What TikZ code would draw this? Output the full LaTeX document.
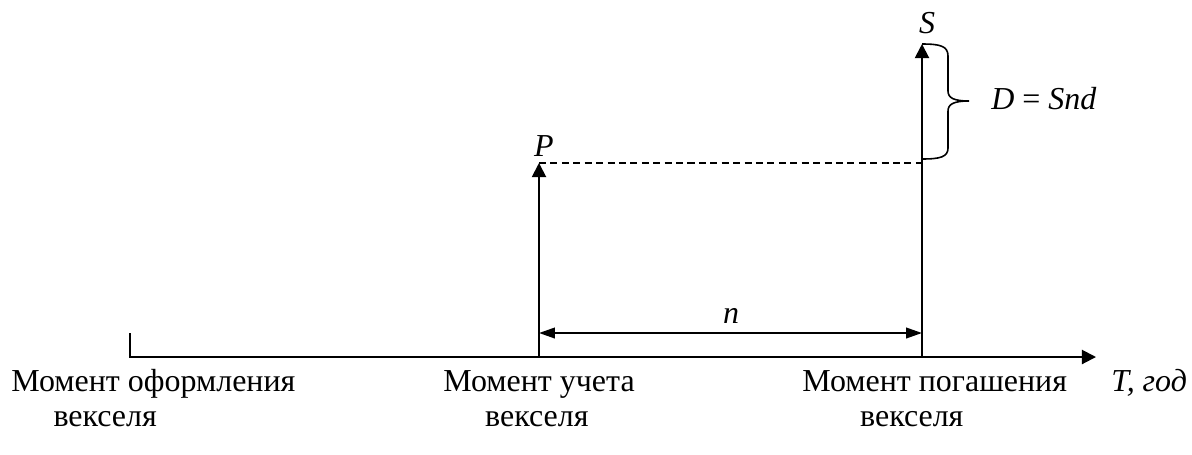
\documentclass[tikz,border=0pt]{standalone}
\usepackage{fontspec}
\setmainfont{Liberation Serif}
\usetikzlibrary{arrows.meta}

\begin{document}
\begin{tikzpicture}[x=0.02cm,y=-0.02cm,
  every node/.style={font=\fontsize{18.2}{19.5}\selectfont},
  trait/.style={line width=1.1pt},
  fleche/.style={trait,-{Triangle[length=8pt,width=8pt]}},
  cote/.style={trait,{Triangle[length=9pt,width=6pt]}-{Triangle[length=9pt,width=6pt]}},
  legende/.style={anchor=base west,inner sep=0pt,align=left}
]
\useasboundingbox (0,0) rectangle (1192,454);

% points de l'axe
\coordinate (debuthaut) at (130,333);
\coordinate (debut) at (130,357);
\coordinate (fin) at (1096,357);
\coordinate (pbas) at (539,357);
\coordinate (phaut) at (539,163);
\coordinate (sbas) at (922,357);
\coordinate (shaut) at (922,44);
\coordinate (niveauP) at (922,163);
\coordinate (ngauche) at (539,333);
\coordinate (ndroite) at (922,333);
\coordinate (pointe) at (969,101);

\draw[fleche]
(debuthaut)
--
(debut)
--
(fin);

\draw[fleche]
(pbas)
--
(phaut);

\draw[fleche]
(sbas)
--
(shaut);

\draw[trait,dash pattern=on 4pt off 2.5pt]
(phaut)
--
(niveauP);

% accolade
\draw[line width=0.9pt]
(shaut)
.. controls (940,44) and (948,46) .. (948,56)
--
(948,91)
.. controls (948,98) and (954,101) .. (pointe)
.. controls (954,101) and (948,104) .. (948,111)
--
(948,148)
.. controls (948,157) and (940,159) .. (922,159);

\draw[cote]
(ngauche)
--
(ndroite);

\node (etiqS)
at (927,23)
{\itshape S};

\node (etiqP)
at (544,146)
{\itshape P};

\node[anchor=base west,inner sep=0pt] (remise)
at (991,109)
{\textit{D} = \textit{Snd}};

\node[anchor=base,inner sep=0pt] (duree)
at (731,323)
{\itshape n};

\node[anchor=base west,inner sep=0pt] (temps)
at (1111,391)
{\itshape T, год};

\node[legende] (emission)
at (11,426)
{Момент оформления\\\hspace*{24pt}векселя};

\node[legende] (escompte)
at (443,426)
{Момент учета\\\hspace*{23.8pt}векселя};

\node[legende] (echeance)
at (802,426)
{Момент погашения\\\hspace*{32.9pt}векселя};

\end{tikzpicture}
\end{document}
